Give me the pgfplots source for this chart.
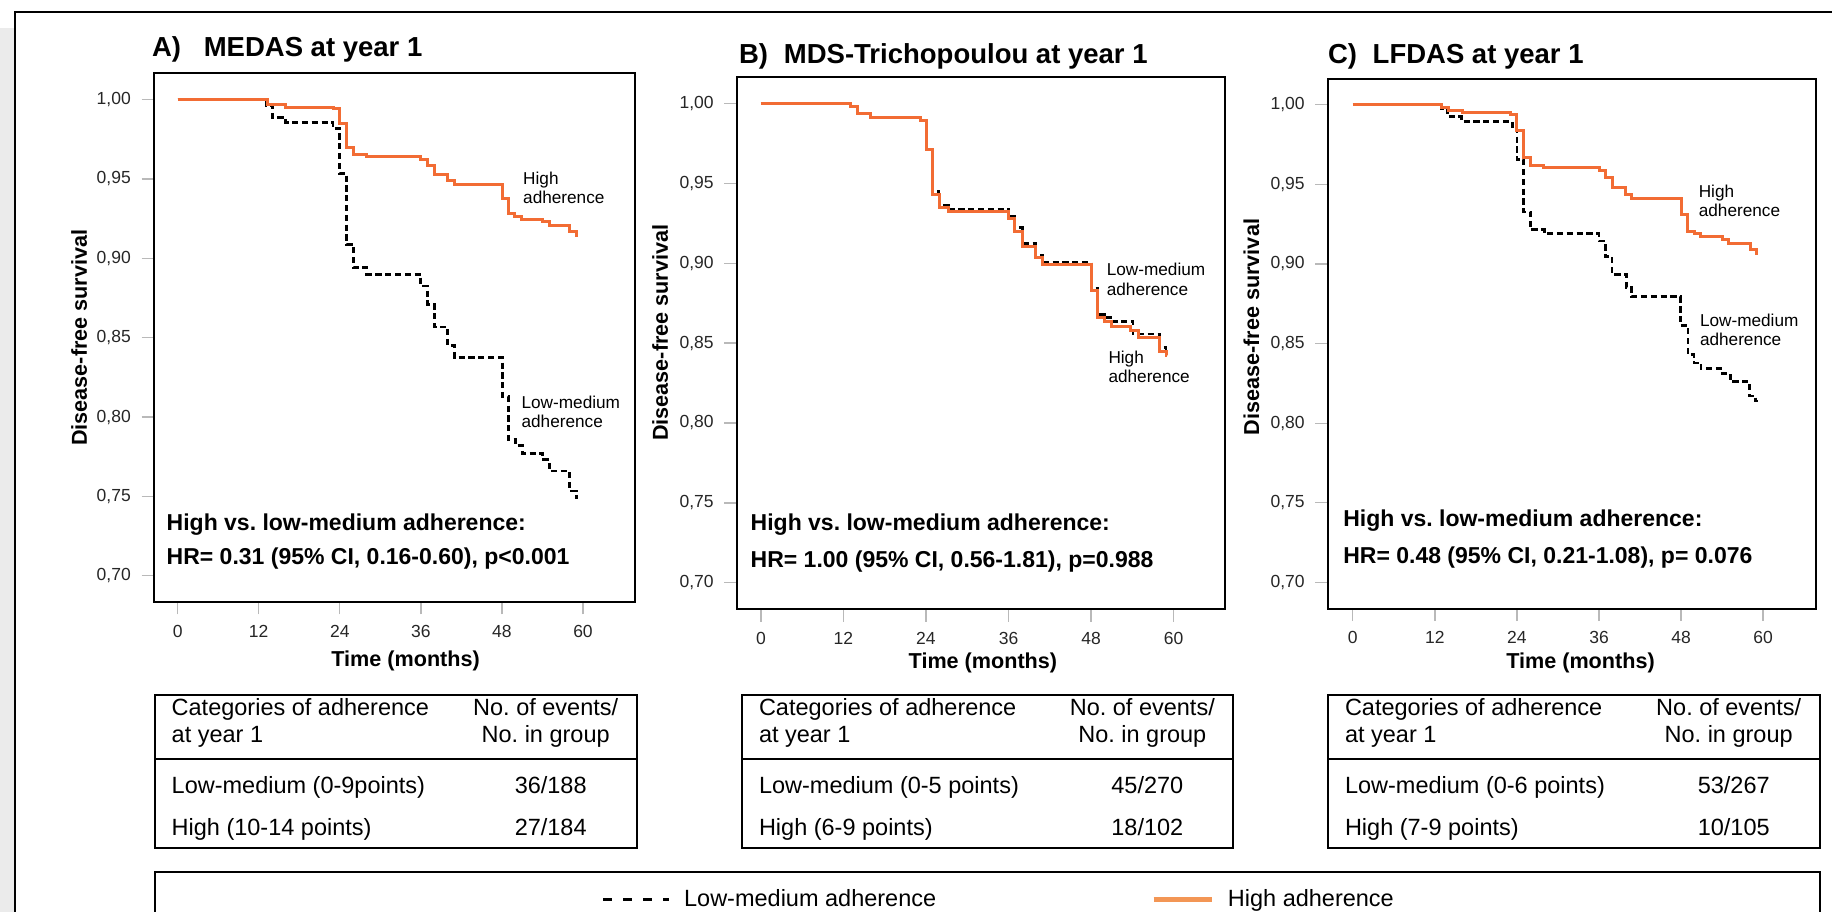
\documentclass[border=0pt]{standalone}
\usepackage{fontspec}
\setmainfont{Liberation Sans}
\usepackage{pgfplots}
\pgfplotsset{compat=1.18}

\definecolor{kmorange}{RGB}{242,108,52}
\definecolor{legorange}{RGB}{243,150,85}
\definecolor{sidegray}{RGB}{235,235,235}
\newcommand{\fsz}[1]{\fontsize{#1}{#1}\selectfont}

\pgfplotsset{
  km/.style={
    scale only axis, anchor=south west,
    ymin=0.6836, ymax=1.0164,
    xtick={0,12,24,36,48,60}, xticklabels={0,12,24,36,48,60},
    ytick={0.70,0.75,0.80,0.85,0.90,0.95,1.00},
    yticklabels={{0,70},{0,75},{0,80},{0,85},{0,90},{0,95},{1,00}},
    tick align=outside, tick pos=left,
    major tick length=12.5pt,
    tick style={gray!55, line width=1.3pt},
    axis line style={black, line width=2pt},
    ticklabel style={font=\fsz{17.5}, text=black!85, inner sep=0pt},
    yticklabel style={xshift=-10.5pt},
    xticklabel style={yshift=-10.5pt},
    /pgf/number format/assume math mode=true,
  },
  lowline/.style={const plot, black, line width=2.8pt, dash pattern=on 6.2pt off 3.6pt, forget plot},
  highline/.style={const plot, kmorange, line width=3pt, forget plot},
  legdash/.style={legend image code/.code={%
    \draw[black, line width=3pt, dash pattern=on 8.6pt off 11.4pt] (0pt,0pt) -- (66pt,0pt);}},
  legsolid/.style={legend image code/.code={%
    \draw[legorange, line width=5pt] (0pt,0pt) -- (58.5pt,0pt);}},
}

\begin{document}
\begin{tikzpicture}
\useasboundingbox (0pt,0pt) rectangle (1832pt,-912pt);

% outer frame and grey margin
\begin{scope}[x=1pt,y=-1pt]
  \fill[sidegray] (0,28) rectangle (14,912);
  \draw[black, line width=2pt] (15,940) -- (15,12) -- (1850,12);
\end{scope}

% ---------------- Panel A: MEDAS ----------------
\begin{axis}[km, at={(154pt,-601.8pt)}, width=481pt, height=528.3pt,
  xmin=-3.5, xmax=67.7,
  legend style={at={(axis description cs:0.9308,-0.5626)}, anchor=west,
    draw=none, fill=none, inner sep=0pt, legend columns=2,
    font=\fsz{23.5}, nodes={inner sep=0pt},
    /tikz/every odd column/.append style={column sep=13.2pt},
    /tikz/every even column/.append style={column sep=215pt}},
  legend cell align=left]
\addlegendimage{legdash}
\addlegendentry{Low-medium adherence}
\addlegendimage{legsolid}
\addlegendentry{High adherence}
\addplot[lowline] coordinates {
  (0,1.000) (13.1,0.9963) (14.0,0.9888) (16.0,0.9857) (23.0,0.9820)
  (24.0,0.9533) (25.0,0.9087) (26.0,0.8940) (28.0,0.8900) (36.0,0.8825)
  (37.0,0.8710) (38.0,0.8567) (40.0,0.8453) (41.0,0.8375) (48.1,0.8127)
  (49.0,0.7857) (50.0,0.7820) (51.0,0.7772) (54.0,0.7730) (55.0,0.7660)
  (58.0,0.7534) (59.0,0.7490) (59.3,0.7490)};
\addplot[highline] coordinates {
  (0,1.000) (13.3,0.9966) (16.0,0.9952) (23.0,0.9942) (24.0,0.9850)
  (25.0,0.9700) (26.0,0.9653) (28.0,0.9642) (36.0,0.9621) (37.0,0.9585)
  (38.0,0.9527) (40.0,0.9491) (41.0,0.9464) (48.1,0.9376) (48.9,0.9282)
  (49.9,0.9265) (50.9,0.9246) (54.0,0.9229) (55.0,0.9208) (58.0,0.9166)
  (59.0,0.9141) (59.3,0.9141)};
\end{axis}

% ---------------- Panel B: MDS-Trichopoulou ----------------
\begin{axis}[km, at={(736.8pt,-609pt)}, width=488.4pt, height=531.8pt,
  xmin=-3.5, xmax=67.5]
\addplot[lowline] coordinates {
  (0,1.000) (13.1,0.9978) (14.0,0.9936) (15.9,0.9913) (23.2,0.9894)
  (24.1,0.9712) (25.0,0.9449) (25.9,0.9363) (27.3,0.9335) (36.0,0.9290)
  (36.9,0.9223) (38.0,0.9125) (39.9,0.9050) (41.0,0.9005) (48.1,0.8845)
  (49.0,0.8678) (49.9,0.8658) (50.9,0.8636) (54.1,0.8557) (58.0,0.8473)
  (58.9,0.8454) (59.1,0.8454)};
\addplot[highline] coordinates {
  (0,1.000) (13.1,0.9978) (14.0,0.9936) (15.9,0.9913) (23.2,0.9894)
  (24.1,0.9712) (25.0,0.9432) (25.9,0.9349) (27.3,0.9326) (36.0,0.9279)
  (36.9,0.9200) (38.0,0.9105) (39.9,0.9033) (41.0,0.8991) (48.1,0.8831)
  (49.0,0.8658) (49.9,0.8636) (50.9,0.8602) (53.8,0.8580) (54.9,0.8532)
  (58.0,0.8448) (58.9,0.8420) (59.1,0.8420)};
\end{axis}

% ---------------- Panel C: LFDAS ----------------
\begin{axis}[km, at={(1327.8pt,-608.5pt)}, width=487.7pt, height=529.9pt,
  xmin=-3.66, xmax=67.66]
\addplot[lowline] coordinates {
  (0,1.000) (12.9,0.9978) (13.9,0.9924) (15.9,0.9896) (23.3,0.9865)
  (24.0,0.9655) (25.0,0.9326) (26.0,0.9214) (28.0,0.9189) (36.0,0.9144)
  (36.9,0.9046) (37.9,0.8935) (40.0,0.8851) (40.8,0.8794) (47.9,0.8613)
  (49.0,0.8430) (49.9,0.8378) (50.9,0.8341) (54.1,0.8313) (55.2,0.8260)
  (58.0,0.8170) (58.9,0.8139) (59.2,0.8139)};
\addplot[highline] coordinates {
  (0,1.000) (13.0,0.9980) (14.0,0.9966) (16.1,0.9952) (23.0,0.9938)
  (24.0,0.9837) (25.0,0.9670) (26.0,0.9620) (27.9,0.9607) (36.0,0.9587)
  (36.9,0.9542) (37.9,0.9480) (39.8,0.9439) (40.8,0.9411) (48.0,0.9312)
  (49.0,0.9206) (49.9,0.9189) (50.9,0.9175) (54.1,0.9152) (55.0,0.9130)
  (58.1,0.9088) (59.0,0.9065) (59.2,0.9065)};
\end{axis}

% ---------------- titles, labels, tables ----------------
\begin{scope}[x=1pt,y=-1pt, every node/.style={inner sep=0pt}]
  % panel titles
  \node[anchor=base west, font=\fsz{27.5}\bfseries] at (151.8,56.2) {A)};
  \node[anchor=base west, font=\fsz{27.5}\bfseries] at (203.6,56.2) {MEDAS at year 1};
  \node[anchor=base west, font=\fsz{27.5}\bfseries] at (738.9,63.4) {B)};
  \node[anchor=base west, font=\fsz{27.5}\bfseries] at (783.7,63.4) {MDS-Trichopoulou at year 1};
  \node[anchor=base west, font=\fsz{27.5}\bfseries] at (1327.8,63.4) {C)};
  \node[anchor=base west, font=\fsz{27.5}\bfseries] at (1372.5,63.4) {LFDAS at year 1};

  % axis titles
  \foreach \x/\y in {79.2/337.7, 660.1/332.6, 1251.4/327}
    \node[rotate=90, font=\fsz{21.6}\bfseries] at (\x,\y) {Disease-free survival};
  \foreach \x/\y in {405.6/660.7, 982.9/663, 1580.5/663}
    \node[font=\fsz{21.6}\bfseries] at (\x,\y) {Time (months)};

  % hazard ratios
  \begin{scope}[every node/.append style={anchor=base west, font=\fsz{23}\bfseries}]
    \node at (166.5,530.4) {High vs.\ low-medium adherence:};
    \node at (166.5,564.7) {HR= 0.31 (95\% CI, 0.16-0.60), p<0.001};
    \node at (750.5,530.4) {High vs.\ low-medium adherence:};
    \node at (750.5,567.1) {HR= 1.00 (95\% CI, 0.56-1.81), p=0.988};
    \node at (1343.1,526.9) {High vs.\ low-medium adherence:};
    \node at (1343.1,563.9) {HR= 0.48 (95\% CI, 0.21-1.08), p= 0.076};
  \end{scope}

  % curve labels
  \begin{scope}[every node/.append style={anchor=base west, font=\fsz{17.2}}]
    \node at (523,185) {High};        \node at (523,204) {adherence};
    \node at (521.4,408) {Low-medium}; \node at (521.4,427) {adherence};
    \node at (1106.6,276) {Low-medium}; \node at (1106.6,295.3) {adherence};
    \node at (1108.3,363.6) {High};     \node at (1108.3,382.3) {adherence};
    \node at (1698.6,198) {High};       \node at (1698.6,216.7) {adherence};
    \node at (1699.8,326) {Low-medium}; \node at (1699.8,345.3) {adherence};
  \end{scope}

  % event tables
  \foreach \L/\R/\low/\high/\ne/\nh in {
      155/636.7/{Low-medium (0-9points)}/{High (10-14 points)}/36\slash188/27\slash184,
      742.3/1233.3/{Low-medium (0-5 points)}/{High (6-9 points)}/45\slash270/18\slash102,
      1328.3/1819.7/{Low-medium (0-6 points)}/{High (7-9 points)}/53\slash267/10\slash105}{
    \draw[black, line width=2.3pt] (\L,694.7) rectangle (\R,847.7);
    \draw[black, line width=2.3pt] (\L,759) -- (\R,759);
    \begin{scope}[every node/.append style={font=\fsz{23.5}}]
      \node[anchor=base west] at (\L+16.5,715) {Categories of adherence};
      \node[anchor=base west] at (\L+16.5,742.3) {at year 1};
      \node[anchor=base west] at (\L+16.5,793.5) {\low};
      \node[anchor=base west] at (\L+16.5,835.5) {\high};
      \node[anchor=base] at (\R-91,715) {No.\ of events/};
      \node[anchor=base] at (\R-91,742.3) {No.\ in group};
      \node[anchor=base] at (\R-86,793.5) {\ne};
      \node[anchor=base] at (\R-86,835.5) {\nh};
    \end{scope}
  }

  % legend frame
  \draw[black, line width=2.3pt] (155,940) -- (155,872) -- (1819.7,872) -- (1819.7,940);
\end{scope}
\end{tikzpicture}
\end{document}
